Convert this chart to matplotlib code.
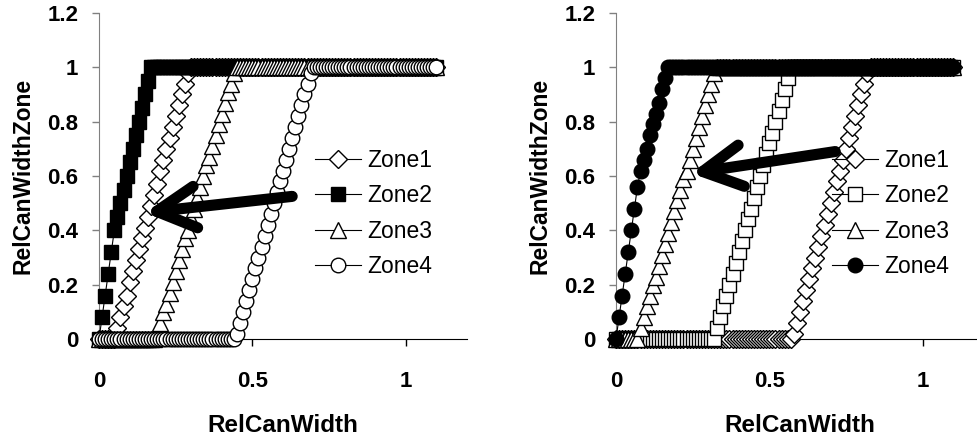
import matplotlib
matplotlib.use("Agg")
import matplotlib.pyplot as plt

plt.rcParams['font.family'] = ['Liberation Sans', 'DejaVu Sans']

# %% data (x grid shared by every series)
x_vals = [0.00, 0.01, 0.02, 0.03, 0.04, 0.05, 0.06, 0.07, 0.08, 0.09,
          0.10, 0.11, 0.12, 0.13, 0.14, 0.15, 0.16, 0.17, 0.18, 0.19,
          0.20, 0.21, 0.22, 0.23, 0.24, 0.25, 0.26, 0.27, 0.28, 0.29,
          0.30, 0.31, 0.32, 0.33, 0.34, 0.35, 0.36, 0.37, 0.38, 0.39,
          0.40, 0.41, 0.42, 0.43, 0.44, 0.45, 0.46, 0.47, 0.48, 0.49,
          0.50, 0.51, 0.52, 0.53, 0.54, 0.55, 0.56, 0.57, 0.58, 0.59,
          0.60, 0.61, 0.62, 0.63, 0.64, 0.65, 0.66, 0.67, 0.68, 0.69,
          0.70, 0.71, 0.72, 0.73, 0.74, 0.75, 0.76, 0.77, 0.78, 0.79,
          0.80, 0.81, 0.82, 0.83, 0.84, 0.85, 0.86, 0.87, 0.88, 0.89,
          0.90, 0.91, 0.92, 0.93, 0.94, 0.95, 0.96, 0.97, 0.98, 0.99,
          1.00, 1.01, 1.02, 1.03, 1.04, 1.05, 1.06, 1.07, 1.08, 1.09,
          1.10]

# left panel
left_zone1 = [0, 0, 0, 0, 0, 0, .04, .08, .12, .16,
              .21, .25, .29, .33, .37, .41, .45, .49, .53, .57,
              .62, .66, .70, .74, .78, .82, .86, .90, .94, .98,
              1, 1, 1, 1, 1, 1, 1, 1, 1, 1,
              1, 1, 1, 1, 1, 1, 1, 1, 1, 1,
              1, 1, 1, 1, 1, 1, 1, 1, 1, 1,
              1, 1, 1, 1, 1, 1, 1, 1, 1, 1,
              1, 1, 1, 1, 1, 1, 1, 1, 1, 1,
              1, 1, 1, 1, 1, 1, 1, 1, 1, 1,
              1, 1, 1, 1, 1, 1, 1, 1, 1, 1,
              1, 1, 1, 1, 1, 1, 1, 1, 1, 1,
              1]
left_zone2 = [0, .08, .16, .24, .32, .40, .45, .50, .55, .60,
              .65, .70, .75, .80, .85, .90, .95, 1, 1, 1,
              1, 1, 1, 1, 1, 1, 1, 1, 1, 1,
              1, 1, 1, 1, 1, 1, 1, 1, 1, 1,
              1, 1, 1, 1, 1, 1, 1, 1, 1, 1,
              1, 1, 1, 1, 1, 1, 1, 1, 1, 1,
              1, 1, 1, 1, 1, 1, 1, 1, 1, 1,
              1, 1, 1, 1, 1, 1, 1, 1, 1, 1,
              1, 1, 1, 1, 1, 1, 1, 1, 1, 1,
              1, 1, 1, 1, 1, 1, 1, 1, 1, 1,
              1, 1, 1, 1, 1, 1, 1, 1, 1, 1,
              1]
left_zone3 = [0, 0, 0, 0, 0, 0, 0, 0, 0, 0,
              0, 0, 0, 0, 0, 0, 0, 0, 0, .02,
              .06, .10, .13, .17, .21, .25, .29, .33, .37, .40,
              .44, .48, .52, .56, .60, .64, .67, .71, .75, .79,
              .83, .87, .91, .94, .98, 1, 1, 1, 1, 1,
              1, 1, 1, 1, 1, 1, 1, 1, 1, 1,
              1, 1, 1, 1, 1, 1, 1, 1, 1, 1,
              1, 1, 1, 1, 1, 1, 1, 1, 1, 1,
              1, 1, 1, 1, 1, 1, 1, 1, 1, 1,
              1, 1, 1, 1, 1, 1, 1, 1, 1, 1,
              1, 1, 1, 1, 1, 1, 1, 1, 1, 1,
              1]
left_zone4 = [0, 0, 0, 0, 0, 0, 0, 0, 0, 0,
              0, 0, 0, 0, 0, 0, 0, 0, 0, 0,
              0, 0, 0, 0, 0, 0, 0, 0, 0, 0,
              0, 0, 0, 0, 0, 0, 0, 0, 0, 0,
              0, 0, 0, 0, 0, .02, .06, .10, .14, .18,
              .22, .26, .30, .34, .38, .42, .46, .50, .54, .58,
              .62, .66, .70, .74, .78, .82, .86, .90, .94, .98,
              1, 1, 1, 1, 1, 1, 1, 1, 1, 1,
              1, 1, 1, 1, 1, 1, 1, 1, 1, 1,
              1, 1, 1, 1, 1, 1, 1, 1, 1, 1,
              1, 1, 1, 1, 1, 1, 1, 1, 1, 1,
              1]

# right panel
right_zone1 = [0, 0, 0, 0, 0, 0, 0, 0, 0, 0,
               0, 0, 0, 0, 0, 0, 0, 0, 0, 0,
               0, 0, 0, 0, 0, 0, 0, 0, 0, 0,
               0, 0, 0, 0, 0, 0, 0, 0, 0, 0,
               0, 0, 0, 0, 0, 0, 0, 0, 0, 0,
               0, 0, 0, 0, 0, 0, 0, 0, .02, .06,
               .10, .14, .18, .22, .26, .30, .34, .38, .42, .46,
               .50, .54, .58, .62, .66, .70, .74, .78, .82, .86,
               .90, .94, .98, 1, 1, 1, 1, 1, 1, 1,
               1, 1, 1, 1, 1, 1, 1, 1, 1, 1,
               1, 1, 1, 1, 1, 1, 1, 1, 1, 1,
               1]
right_zone2 = [0, 0, 0, 0, 0, 0, 0, 0, 0, 0,
               0, 0, 0, 0, 0, 0, 0, 0, 0, 0,
               0, 0, 0, 0, 0, 0, 0, 0, 0, 0,
               0, 0, 0, .04, .08, .12, .16, .20, .24, .28,
               .32, .36, .40, .44, .48, .52, .56, .60, .64, .68,
               .72, .76, .80, .84, .88, .92, .96, 1, 1, 1,
               1, 1, 1, 1, 1, 1, 1, 1, 1, 1,
               1, 1, 1, 1, 1, 1, 1, 1, 1, 1,
               1, 1, 1, 1, 1, 1, 1, 1, 1, 1,
               1, 1, 1, 1, 1, 1, 1, 1, 1, 1,
               1, 1, 1, 1, 1, 1, 1, 1, 1, 1,
               1]
right_zone3 = [0, 0, 0, 0, 0, 0, 0, 0, .04, .08,
               .12, .16, .20, .23, .27, .31, .35, .39, .43, .47,
               .51, .55, .59, .62, .66, .70, .74, .78, .82, .86,
               .90, .94, .98, 1, 1, 1, 1, 1, 1, 1,
               1, 1, 1, 1, 1, 1, 1, 1, 1, 1,
               1, 1, 1, 1, 1, 1, 1, 1, 1, 1,
               1, 1, 1, 1, 1, 1, 1, 1, 1, 1,
               1, 1, 1, 1, 1, 1, 1, 1, 1, 1,
               1, 1, 1, 1, 1, 1, 1, 1, 1, 1,
               1, 1, 1, 1, 1, 1, 1, 1, 1, 1,
               1, 1, 1, 1, 1, 1, 1, 1, 1, 1,
               1]
right_zone4 = [0, .08, .16, .24, .32, .40, .48, .56, .62, .66,
               .70, .75, .79, .83, .87, .92, .96, 1, 1, 1,
               1, 1, 1, 1, 1, 1, 1, 1, 1, 1,
               1, 1, 1, 1, 1, 1, 1, 1, 1, 1,
               1, 1, 1, 1, 1, 1, 1, 1, 1, 1,
               1, 1, 1, 1, 1, 1, 1, 1, 1, 1,
               1, 1, 1, 1, 1, 1, 1, 1, 1, 1,
               1, 1, 1, 1, 1, 1, 1, 1, 1, 1,
               1, 1, 1, 1, 1, 1, 1, 1, 1, 1,
               1, 1, 1, 1, 1, 1, 1, 1, 1, 1,
               1, 1, 1, 1, 1, 1, 1, 1, 1, 1,
               1]

zone_names = ['Zone1', 'Zone2', 'Zone3', 'Zone4']
y_ticks = [0, 0.2, 0.4, 0.6, 0.8, 1.0, 1.2]
y_ticklabels = ['0', '0.2', '0.4', '0.6', '0.8', '1', '1.2']
x_ticks = [0, 0.5, 1.0]
x_ticklabels = ['0', '0.5', '1']

# arrows: (tail x, tail y) -> (head x, head y) in data units
left_arrow = ((0.63, 0.525), (0.15, 0.465))
right_arrow = ((0.715, 0.69), (0.245, 0.61))

# marker style per zone, left / right panel
left_styles = [dict(marker='D', ms=9, mfc='white'),
               dict(marker='s', ms=10.5, mfc='black'),
               dict(marker='^', ms=12, mfc='white'),
               dict(marker='o', ms=10.5, mfc='white')]
right_styles = [dict(marker='D', ms=9, mfc='white'),
                dict(marker='s', ms=10.5, mfc='white'),
                dict(marker='^', ms=12, mfc='white'),
                dict(marker='o', ms=10.5, mfc='black')]

# %% figure
fig = plt.figure(figsize=(9.77, 4.36), dpi=100)
ax_l = fig.add_axes([99 / 977, 97 / 436, 368 / 977, 326 / 436])
ax_r = fig.add_axes([616 / 977, 97 / 436, 368 / 977, 326 / 436])


def draw_panel(ax, series, styles, arrow):
    for ys, name, st in zip(series, zone_names, styles):
        ax.plot(x_vals, ys, color='black', lw=0.8, mec='black', mew=1.0,
                label=name, clip_on=False, zorder=3, **st)
    ax.set_xlim(0, 1.2)
    ax.set_ylim(0, 1.2)
    ax.set_yticks(y_ticks)
    ax.set_yticklabels(y_ticklabels)
    ax.set_xticks(x_ticks)
    ax.set_xticklabels(x_ticklabels)
    for lab in ax.get_xticklabels() + ax.get_yticklabels():
        lab.set_fontweight('bold')
    ax.tick_params(axis='y', direction='out', length=5, width=1,
                   color='#808080', labelsize=16, pad=10)
    ax.tick_params(axis='x', direction='out', length=5, width=1,
                   color='black', labelsize=16, pad=18)
    ax.spines['top'].set_visible(False)
    ax.spines['right'].set_visible(False)
    ax.spines['left'].set_color('#808080')
    ax.spines['bottom'].set_color('black')
    ax.set_xlabel('RelCanWidth', fontsize=17.5, fontweight='bold',
                  labelpad=16)
    ax.set_ylabel('RelCanWidthZone', fontsize=16.5, fontweight='bold',
                  labelpad=9)
    ax.legend(loc='center left', bbox_to_anchor=(0.587, 0.385), frameon=False,
              fontsize=16.5, numpoints=1, handlelength=2.0, handletextpad=0.3,
              labelspacing=0.55, borderpad=0, borderaxespad=0)
    (tx, ty), (hx, hy) = arrow
    ax.annotate('', xy=(hx, hy), xytext=(tx, ty), zorder=5,
                arrowprops=dict(arrowstyle='->,head_length=1.4,head_width=0.75',
                                mutation_scale=20, lw=8, color='black',
                                shrinkA=0, shrinkB=0, capstyle='round',
                                joinstyle='round'))


draw_panel(ax_l, [left_zone1, left_zone2, left_zone3, left_zone4],
           left_styles, left_arrow)
draw_panel(ax_r, [right_zone1, right_zone2, right_zone3, right_zone4],
           right_styles, right_arrow)

fig.savefig('out.png', dpi=100)
